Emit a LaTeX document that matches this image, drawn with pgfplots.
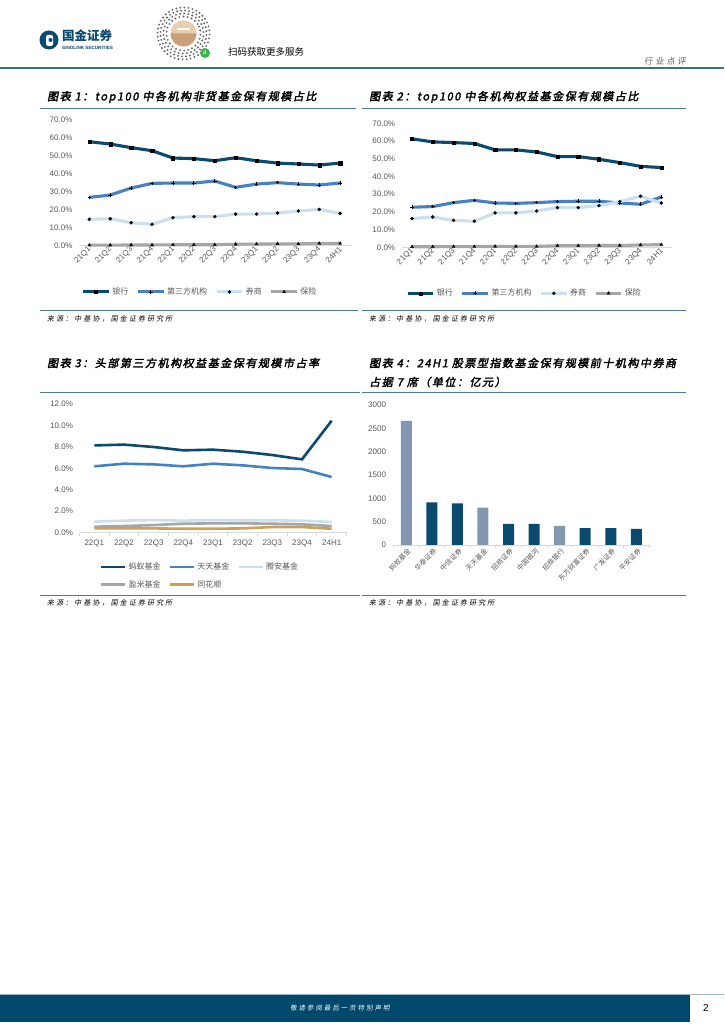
\documentclass[border=0pt]{standalone}
\usepackage{fontspec}
\setmainfont{Liberation Sans}
\newfontfamily\cjk{Noto Sans CJK SC}
\newfontfamily\cjkt[FakeSlant=0.2,FakeBold=2.5,LetterSpace=14]{Noto Sans CJK SC}
\newfontfamily\cjks[FakeSlant=0.15,LetterSpace=30]{Noto Sans CJK SC}
\usepackage{pgfplots}
\pgfplotsset{compat=1.18}

\definecolor{cnavy}{HTML}{0B4A6F}
\definecolor{cblue}{HTML}{4682C3}
\definecolor{clight}{HTML}{CADFF2}
\definecolor{cgrey}{HTML}{A6A6A6}
\definecolor{cgold}{HTML}{C9A25A}
\definecolor{cbar}{HTML}{8497B0}
\definecolor{ctick}{HTML}{595959}
\definecolor{csep}{HTML}{4D7A97}
\definecolor{caxis}{HTML}{D9D9D9}
\definecolor{cfoot}{HTML}{00486C}
\definecolor{chead}{HTML}{3D6F91}
\definecolor{cqr1}{HTML}{E9CDAE}
\definecolor{cqr2}{HTML}{C99F78}
\definecolor{cgreen}{HTML}{3BB54A}
\definecolor{cfootline}{HTML}{9FB8C8}

% data
\pgfplotstableread{
x bank third sec ins
0  57.9 26.9 14.7 0.3
1  56.6 28.2 15.0 0.3
2  54.6 32.1 12.8 0.4
3  52.9 34.7 11.9 0.4
4  48.8 34.9 15.6 0.5
5  48.5 34.9 16.2 0.5
6  47.3 36.0 16.2 0.5
7  49.0 32.5 17.6 0.8
8  47.3 34.3 17.6 0.9
9  46.0 35.1 18.2 1.0
10 45.5 34.3 19.3 1.0
11 44.9 33.8 20.2 1.3
12 46.0 34.9 18.0 1.3
}\tabA

\pgfplotstableread{
x bank third sec ins
0  61.2 22.6 16.2 0.3
1  59.5 23.0 17.1 0.3
2  59.1 25.2 15.2 0.4
3  58.6 26.5 14.7 0.4
4  55.0 25.0 19.4 0.5
5  55.0 24.8 19.4 0.5
6  53.8 25.2 20.5 0.5
7  51.2 25.8 22.4 0.9
8  51.2 26.0 22.4 0.9
9  49.7 26.0 23.5 1.0
10 47.8 25.0 25.8 1.0
11 45.7 24.3 28.8 1.3
12 45.0 28.4 25.0 1.5
}\tabB

\pgfplotstableread{
x ant tt ta ym ths
0 8.14 6.19 1.03 0.56 0.40
1 8.21 6.43 1.12 0.62 0.40
2 7.99 6.37 1.18 0.71 0.40
3 7.68 6.19 1.12 0.84 0.37
4 7.74 6.43 1.18 0.87 0.37
5 7.55 6.28 1.15 0.87 0.40
6 7.24 6.03 1.15 0.84 0.53
7 6.84 5.94 1.12 0.78 0.53
8 10.44 5.19 1.00 0.62 0.37
}\tabC

\pgfplotsset{
  base/.style={
    scale only axis, anchor=south west, clip=false,
    axis x line*=bottom, axis y line*=left,
    y axis line style={draw=none},
    x axis line style={draw=caxis, line width=0.7pt},
    major tick length=0pt,
    tick label style={font=\fontsize{8}{9}\selectfont, text=ctick},
    yticklabel style={xshift=-3pt},
    /pgf/number format/assume math mode=true,
    legend style={draw=none, fill=none, font=\cjk\fontsize{8}{9}\selectfont, text=ctick,
      /tikz/every even column/.append style={column sep=6pt}},
    legend cell align=left,
  },
  pct/.style={yticklabel={\pgfmathprintnumber[fixed,fixed zerofill,precision=1]{\tick}\%}},
  lineleg/.style={legend image code/.code={\draw[mark repeat=2,mark phase=2,##1] plot coordinates {(0cm,0cm) (0.45cm,0cm) (0.9cm,0cm)};}},
  plainleg/.style={legend image code/.code={\draw[##1] (0cm,0cm) -- (0.85cm,0cm);}},
  quarters/.style={xmin=-0.5, xmax=12.5, xtick={0,...,12},
    xticklabels={21Q1,21Q2,21Q3,21Q4,22Q1,22Q2,22Q3,22Q4,23Q1,23Q2,23Q3,23Q4,24H1},
    xticklabel style={rotate=45, anchor=east, yshift=-2pt, xshift=2pt},
    ymin=0, ymax=70, ytick={0,10,...,70}},
  sbank/.style={cnavy, line width=3.1pt, mark=square*, mark size=1.6pt, mark options={black, solid, line width=0.3pt}},
  sthird/.style={cblue, line width=3.1pt, mark=+, mark size=1.8pt, mark options={black, line width=0.8pt}},
  ssec/.style={clight, line width=3.1pt, mark=*, mark size=1.6pt, mark options={black, line width=0.3pt}},
  sins/.style={cgrey, line width=3.1pt, mark=triangle*, mark size=1.8pt, mark options={black, line width=0.3pt}},
}

\begin{document}
\begin{tikzpicture}
\useasboundingbox (0,0) rectangle (724pt,1024pt);
\fill[white] (0,0) rectangle (724pt,1024pt);

\begin{scope}[x=1pt,y=1pt]
% header
\fill[cnavy] (49,984) circle (9.5);
\fill[white, rounded corners=1.5] (46,978) rectangle (53,989);
\fill[cnavy] (50.5,984) circle (2);
\node[anchor=west, inner sep=0, text=cnavy] at (62,988) {\cjk\bfseries\fontsize{12.5}{13}\selectfont 国金证券};
\node[anchor=west, inner sep=0, text=cnavy] at (62,976.5) {\bfseries\fontsize{4.6}{5}\selectfont SINOLINK SECURITIES};
% mini program code
\foreach \r/\st in {17/14,20/12,23/10,26/9}
  \foreach \a in {0,\st,...,355}
    \fill[gray!80!black] (183.5,990.5) ++(\a+\r*2:\r) circle (1.05);
\fill[cqr1] (183.5,990.5) circle (13);
\fill[cqr2] (170.5,990.5) arc (180:360:13) -- cycle;
\fill[white] (177,994) rectangle (190,996);
\fill[cgreen] (205,971) circle (5);
\node[text=white, inner sep=0] at (205,971) {\fontsize{5}{5}\selectfont\bfseries d};
\node[anchor=west, inner sep=0] at (228,972) {\cjk\fontsize{9.5}{10}\selectfont 扫码获取更多服务};
\node[anchor=west, inner sep=0, text=ctick] at (644,963) {\cjks\fontsize{8.5}{9}\selectfont 行业点评};
\draw[chead, line width=1.6pt] (0,956) -- (724,956);

% chart titles and rules
\node[anchor=west, inner sep=0] at (47,927) {\cjkt\fontsize{11}{12}\selectfont 图表 1：top100 中各机构非货基金保有规模占比};
\node[anchor=west, inner sep=0] at (369,927) {\cjkt\fontsize{11}{12}\selectfont 图表 2：top100 中各机构权益基金保有规模占比};
\draw[csep, line width=0.9pt] (40,916) -- (356,916);
\draw[csep, line width=0.9pt] (362,916) -- (686,916);
\draw[csep, line width=0.9pt] (40,714) -- (358,714);
\draw[csep, line width=0.9pt] (362,714) -- (686,714);
\node[anchor=west, inner sep=0] at (47,705) {\cjks\fontsize{7}{8}\selectfont 来源：中基协，国金证券研究所};
\node[anchor=west, inner sep=0] at (369,705) {\cjks\fontsize{7}{8}\selectfont 来源：中基协，国金证券研究所};

\node[anchor=west, inner sep=0] at (47,661) {\cjkt\fontsize{11}{12}\selectfont 图表 3：头部第三方机构权益基金保有规模市占率};
\node[anchor=west, inner sep=0] at (369,661) {\cjkt\fontsize{11}{12}\selectfont 图表 4：24H1 股票型指数基金保有规模前十机构中券商};
\node[anchor=west, inner sep=0] at (369,642) {\cjkt\fontsize{11}{12}\selectfont 占据 7 席（单位：亿元）};
\draw[csep, line width=0.9pt] (40,632) -- (360,632);
\draw[csep, line width=0.9pt] (362,632) -- (686,632);
\draw[csep, line width=0.9pt] (40,429) -- (360,429);
\draw[csep, line width=0.9pt] (362,429) -- (686,429);
\node[anchor=west, inner sep=0] at (47,421) {\cjks\fontsize{7}{8}\selectfont 来源：中基协，国金证券研究所};
\node[anchor=west, inner sep=0] at (369,421) {\cjks\fontsize{7}{8}\selectfont 来源：中基协，国金证券研究所};

% footer
\fill[cfoot] (0,2) rectangle (690,30);
\draw[cfootline, line width=0.6pt] (0,30) -- (724,30);
\node[text=white, inner sep=0] at (340,16) {\cjks\fontsize{6.5}{7}\selectfont 敬请参阅最后一页特别声明};
\node[inner sep=0] at (706,16) {\fontsize{10}{10}\selectfont 2};
\end{scope}

% chart 1
\begin{axis}[base, pct, quarters, lineleg, at={(78.9pt,778.3pt)}, width=271.7pt, height=125.7pt,
  legend style={at={(0.446,-0.368)}, anchor=center}, legend columns=-1]
\addplot[sbank] table[x=x,y=bank]{\tabA};
\addplot[sthird] table[x=x,y=third]{\tabA};
\addplot[ssec] table[x=x,y=sec]{\tabA};
\addplot[sins] table[x=x,y=ins]{\tabA};
\legend{银行,第三方机构,券商,保险}
\end{axis}

% chart 2
\begin{axis}[base, pct, quarters, lineleg, at={(401.6pt,776.7pt)}, width=270.1pt, height=124pt,
  legend style={at={(0.455,-0.371)}, anchor=center}, legend columns=-1]
\addplot[sbank] table[x=x,y=bank]{\tabB};
\addplot[sthird] table[x=x,y=third]{\tabB};
\addplot[ssec] table[x=x,y=sec]{\tabB};
\addplot[sins] table[x=x,y=ins]{\tabB};
\legend{银行,第三方机构,券商,保险}
\end{axis}

% chart 3
\begin{axis}[base, pct, plainleg, at={(79.5pt,491.3pt)}, width=267pt, height=128.7pt,
  xmin=-0.5, xmax=8.5, xtick={0,...,8},
  xticklabels={22Q1,22Q2,22Q3,22Q4,23Q1,23Q2,23Q3,23Q4,24H1},
  xticklabel style={yshift=-4pt},
  minor xtick={-0.5,0.5,...,8.5}, minor tick length=3pt, xtick align=outside,
  minor x tick style={draw=caxis, line width=0.7pt},
  ymin=0, ymax=12, ytick={0,2,...,12},
  legend style={at={(0.451,-0.335)}, anchor=center, /tikz/row sep=5pt}, legend columns=3]
\addplot[cnavy, line width=2.6pt] table[x=x,y=ant]{\tabC};
\addplot[cblue, line width=2.6pt] table[x=x,y=tt]{\tabC};
\addplot[clight, line width=2.6pt] table[x=x,y=ta]{\tabC};
\addplot[cgrey, line width=2.6pt] table[x=x,y=ym]{\tabC};
\addplot[cgold, line width=2.6pt] table[x=x,y=ths]{\tabC};
\legend{蚂蚁基金,天天基金,腾安基金,盈米基金,同花顺}
\end{axis}

% chart 4
\begin{axis}[base, at={(393.5pt,479pt)}, width=255.6pt, height=140pt,
  xmin=-0.5, xmax=9.5, xtick={0,...,9},
  xticklabels={蚂蚁基金,华泰证券,中信证券,天天基金,招商证券,中国银河,招商银行,东方财富证券,广发证券,平安证券},
  xticklabel style={rotate=45, anchor=east, font=\cjk\fontsize{6.8}{7}\selectfont, yshift=-6pt, xshift=2pt},
  minor xtick={-0.5,0.5,...,9.5}, minor tick length=3pt, xtick align=outside,
  minor x tick style={draw=caxis, line width=0.7pt},
  ymin=0, ymax=3000, ytick={0,500,...,3000},
  yticklabel style={xshift=-1pt},
  /pgf/number format/1000 sep={},
  ybar, bar width=11pt, bar shift=0pt]
\addplot[fill=cbar, draw=none] coordinates {(0,2657) (3,800) (6,407)};
\addplot[fill=cnavy, draw=none] coordinates {(1,914) (2,893) (4,450) (5,450) (7,364) (8,364) (9,343)};
\end{axis}
\end{tikzpicture}
\end{document}
